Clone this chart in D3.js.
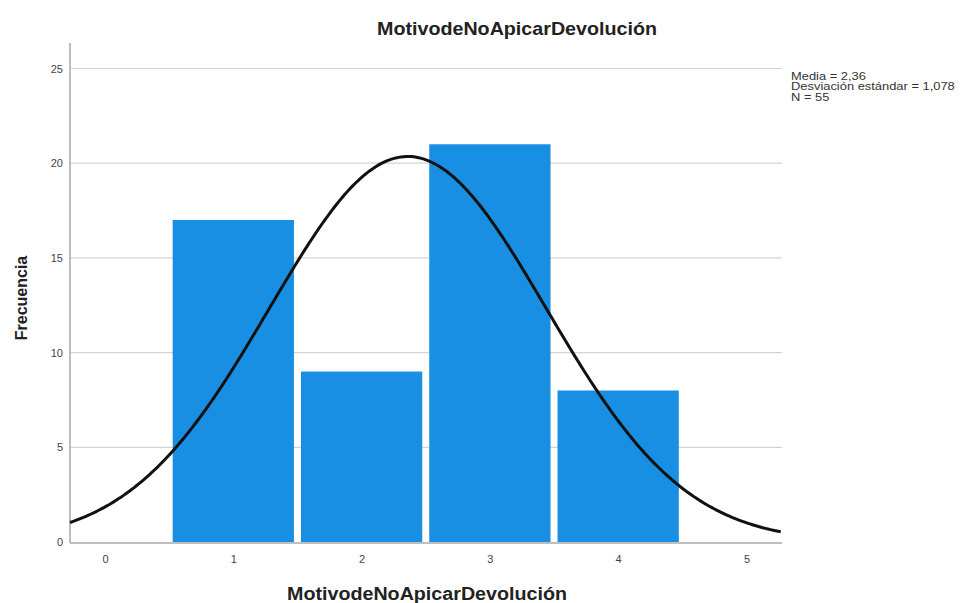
<!DOCTYPE html>
<html>
<head>
<meta charset="utf-8">
<script src="https://cdn.jsdelivr.net/npm/d3@7"></script>
<style>
  body { margin: 0; background: #fff; }
  text { font-family: "Liberation Sans", Arial, sans-serif; }
</style>
</head>
<body>
<svg id="chart"></svg>
<script>
// Chart size
const width = 965, height = 603;

// Histogram data
const categories = [1, 2, 3, 4];
const frequencies = [17, 9, 21, 8];
const xTicks = [0, 1, 2, 3, 4, 5];
const yTicks = [0, 5, 10, 15, 20, 25];

// Summary statistics (shown in the legend and used for the normal curve)
const mean = 2.36;
const sd = 1.078;
const n = 55;
const statLabels = ["Media = 2,36", "Desviación estándar = 1,078", "N = 55"];

const svg = d3.select("#chart")
    .attr("width", width)
    .attr("height", height);

// Plot area
const plotLeft = 70, plotRight = 782, plotTop = 43, plotBottom = 542;

const x = d3.scaleLinear().domain([-0.273, 5.277]).range([plotLeft, plotRight]);
const y = d3.scaleLinear().domain([0, 25]).range([plotBottom, plotBottom - 25 * 18.94]);

// Gridlines
svg.append("g")
    .selectAll("line")
    .data(yTicks.filter(d => d > 0))
    .enter()
    .append("line")
    .attr("x1", plotLeft)
    .attr("x2", plotRight)
    .attr("y1", d => y(d))
    .attr("y2", d => y(d))
    .attr("stroke", "#d4d4d4")
    .attr("stroke-width", 1.2);

// Bars
svg.append("g")
    .selectAll("rect")
    .data(categories)
    .enter()
    .append("rect")
    .attr("x", d => x(d - 0.5) + 3.5)
    .attr("width", d => x(d + 0.5) - x(d - 0.5) - 7)
    .attr("y", (d, i) => y(frequencies[i]))
    .attr("height", (d, i) => y(0) - y(frequencies[i]))
    .attr("fill", "#198fe3");

// Axes
const yAxis = svg.append("g")
    .attr("transform", `translate(${plotLeft},0)`)
    .call(d3.axisLeft(y).tickValues(yTicks).tickFormat(d3.format("d")).tickSize(0).tickPadding(7));
yAxis.select(".domain").remove();
yAxis.selectAll("text")
    .attr("font-size", 11)
    .attr("fill", "#444");

const xAxis = svg.append("g")
    .attr("transform", `translate(0,${plotBottom})`)
    .call(d3.axisBottom(x).tickValues(xTicks).tickFormat(d3.format("d")).tickSize(0).tickPadding(13));
xAxis.select(".domain").remove();
xAxis.selectAll("text")
    .attr("font-size", 11)
    .attr("fill", "#444");

svg.append("line")
    .attr("x1", plotLeft).attr("x2", plotLeft)
    .attr("y1", plotTop).attr("y2", plotBottom + 1)
    .attr("stroke", "#aaa").attr("stroke-width", 1.5);
svg.append("line")
    .attr("x1", plotLeft).attr("x2", plotRight)
    .attr("y1", plotBottom + 1).attr("y2", plotBottom + 1)
    .attr("stroke", "#aaa").attr("stroke-width", 1.5);

// Normal curve from mean, sd and N (bin width 1)
const curveX = d3.range(x.domain()[0], x.domain()[1] + 0.001, 0.02);
const normal = v => n / (sd * Math.sqrt(2 * Math.PI)) * Math.exp(-0.5 * Math.pow((v - mean) / sd, 2));

svg.append("path")
    .datum(curveX)
    .attr("fill", "none")
    .attr("stroke", "#111")
    .attr("stroke-width", 3)
    .attr("d", d3.line().x(d => x(d)).y(d => y(normal(d))));

// Titles
svg.append("text")
    .attr("x", 517)
    .attr("y", 35)
    .attr("text-anchor", "middle")
    .attr("font-size", 19)
    .attr("font-weight", "bold")
    .attr("fill", "#222")
    .attr("textLength", 280)
    .attr("lengthAdjust", "spacingAndGlyphs")
    .text("MotivodeNoApicarDevolución");

svg.append("text")
    .attr("x", 427)
    .attr("y", 600)
    .attr("text-anchor", "middle")
    .attr("font-size", 18)
    .attr("font-weight", "bold")
    .attr("fill", "#222")
    .attr("textLength", 280)
    .attr("lengthAdjust", "spacingAndGlyphs")
    .text("MotivodeNoApicarDevolución");

svg.append("text")
    .attr("transform", "translate(27,298) rotate(-90)")
    .attr("text-anchor", "middle")
    .attr("font-size", 16)
    .attr("font-weight", "bold")
    .attr("fill", "#222")
    .text("Frecuencia");

// Stats legend (the reference text is stretched horizontally)
svg.append("g")
    .attr("transform", "translate(791,0) scale(1.23,1)")
    .selectAll("text")
    .data(statLabels)
    .enter()
    .append("text")
    .attr("x", 0)
    .attr("y", (d, i) => 80 + i * 10.5)
    .attr("font-size", 10.5)
    .attr("fill", "#333")
    .text(d => d);
</script>
</body>
</html>
